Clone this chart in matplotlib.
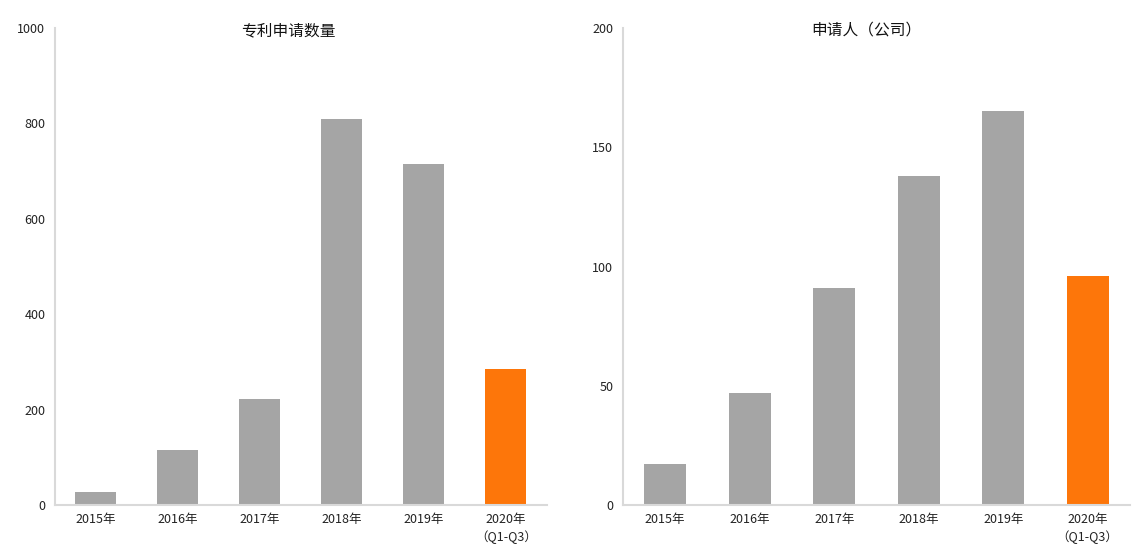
import matplotlib
matplotlib.use("Agg")
import matplotlib.pyplot as plt

plt.rcParams["font.family"] = ["Noto Sans CJK SC", "DejaVu Sans"]

# ── Data ──────────────────────────────────────────────────────────────────────
years = ["2015年", "2016年", "2017年", "2018年", "2019年", "2020年\n（Q1-Q3）"]
patents = [27, 116, 222, 809, 715, 286]
applicants = [17, 47, 91, 138, 165, 96]

GRAY = "#a5a5a5"
ORANGE = "#fd760a"
SPINE = "#d9d9d9"
colors = [GRAY] * 5 + [ORANGE]

fig = plt.figure(figsize=(11.43, 5.59), dpi=100)
ax1 = fig.add_axes([0.0481, 0.0966, 0.4304, 0.8533])
ax2 = fig.add_axes([0.5450, 0.0966, 0.4436, 0.8533])


def style(ax, values, ymax, step, title, title_x):
    x = range(len(values))
    ax.bar(x, values, width=0.5, color=colors, zorder=2)
    ax.set_xlim(-0.5, len(values) - 0.5)
    ax.set_ylim(0, ymax)
    ax.set_yticks(range(0, ymax + 1, step))
    ax.set_xticks(list(x))
    ax.set_xticklabels(years, fontsize=9, linespacing=1.35)
    ax.tick_params(axis="both", length=0, labelsize=9, colors="#222222")
    ax.tick_params(axis="y", pad=7)
    ax.tick_params(axis="x", pad=6)
    for s in ("top", "right"):
        ax.spines[s].set_visible(False)
    for s in ("left", "bottom"):
        ax.spines[s].set_color(SPINE)
        ax.spines[s].set_linewidth(1.5)
    ax.text(title_x, 0.995, title, transform=ax.transAxes, ha="center",
            va="center", fontsize=11.3, color="#111111")


style(ax1, patents, 1000, 200, "专利申请数量", 0.475)
style(ax2, applicants, 200, 50, "申请人（公司）", 0.48)

plt.savefig("out.png", dpi=100)
